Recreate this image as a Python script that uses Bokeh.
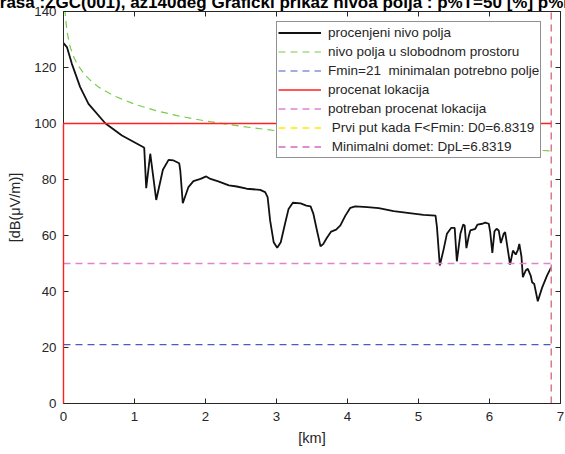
from bokeh.plotting import figure
from bokeh.models import Range1d, LinearAxis, SingleIntervalTicker, Legend
from bokeh.embed import file_html
from bokeh.resources import INLINE

# ---- data ----
d_km = [0.0, 0.048, 0.118, 0.235, 0.352, 0.588, 0.823, 1.127, 1.137, 1.165, 1.222, 1.306,
        1.40, 1.48, 1.55, 1.63, 1.645, 1.68, 1.76, 1.83, 1.93, 2.01, 2.07, 2.18, 2.33,
        2.44, 2.58, 2.77, 2.84, 2.875, 2.91, 2.96, 3.01, 3.06, 3.12, 3.17, 3.23, 3.34,
        3.42, 3.48, 3.52, 3.57, 3.62, 3.66, 3.71, 3.77, 3.84, 3.90, 3.97, 4.04, 4.11,
        4.28, 4.44, 4.65, 5.07, 5.24, 5.26, 5.30, 5.35, 5.40, 5.46, 5.51, 5.54, 5.59,
        5.63, 5.65, 5.675, 5.71, 5.73, 5.80, 5.83, 5.90, 5.94, 5.99, 6.01, 6.04, 6.07,
        6.10, 6.13, 6.16, 6.20, 6.22, 6.26, 6.29, 6.33, 6.37, 6.40, 6.42, 6.45, 6.47,
        6.51, 6.54, 6.58, 6.60, 6.63, 6.68, 6.74, 6.81, 6.87]
field_db = [128.7, 127.3, 121.3, 113.0, 107.0, 100.1, 95.7, 91.5, 91.3, 76.9, 89.2, 72.7,
            83.5, 87.0, 86.8, 85.8, 83.2, 71.5, 77.3, 79.4, 80.2, 81.1, 80.2, 79.3, 77.9,
            77.5, 76.7, 76.3, 75.5, 73.7, 65.4, 57.6, 55.6, 57.6, 64.2, 69.5, 71.7, 71.5,
            70.7, 70.4, 67.7, 61.8, 56.1, 57.0, 59.2, 61.4, 62.1, 63.6, 67.1, 69.9, 70.4,
            70.1, 69.8, 68.7, 67.4, 67.1, 63.0, 49.3, 54.6, 60.6, 62.7, 62.7, 50.8, 60.6,
            63.9, 63.6, 55.5, 60.0, 61.8, 62.4, 63.9, 64.2, 64.6, 64.2, 61.2, 53.8, 61.5,
            62.4, 61.8, 57.3, 60.6, 61.2, 54.6, 49.6, 54.6, 53.2, 54.9, 57.0, 52.5, 45.1,
            47.5, 48.1, 45.7, 43.3, 42.7, 36.5, 41.3, 45.7, 48.7]

fs_km = [0.02, 0.03, 0.05, 0.08, 0.1, 0.15, 0.2, 0.3, 0.4, 0.5, 0.7, 1.0, 1.3, 1.6,
         2.0, 2.5, 3.0, 3.5, 4.0, 5.0, 6.0, 6.87]
fs_db = [140.9, 137.4, 132.9, 128.8, 126.9, 123.4, 120.9, 117.4, 114.9, 112.9, 110.0,
         106.9, 104.6, 102.8, 100.9, 99.0, 97.4, 96.0, 94.9, 92.9, 91.3, 90.2]

fmin = 21
d_end = 6.87
loc_x = [0.0, 0.0, 6.87]
loc_y = [0.0, 100.0, 100.0]
req_loc = 50
d0 = 6.87
dpl = 6.87

x_ticks_interval = 1
y_ticks_interval = 20

title_text = "Trasa :ZGC(001), az140deg Graficki prikaz nivoa polja : p%T=50 [%] p%L=50 [%]"
labels = ["procenjeni nivo polja",
          "nivo polja u slobodnom prostoru",
          "Fmin=21  minimalan potrebno polje",
          "procenat lokacija",
          "potreban procenat lokacija",
          " Prvi put kada F<Fmin: D0=6.8319",
          " Minimalni domet: DpL=6.8319"]

FONT = "Liberation Sans"
AX = "#262626"
HIDDEN_TOP = 21   # part of the figure pushed above the window so the title is cut like the original

p = figure(width=565, height=454 + HIDDEN_TOP, output_backend="svg", toolbar_location=None,
           x_range=Range1d(0, 7), y_range=Range1d(0, 140),
           min_border_left=63, min_border_right=5, min_border_top=11 + HIDDEN_TOP,
           min_border_bottom=51,
           x_axis_label="[km]", y_axis_label="[dB(μV/m)]")
p.styles = {"margin-top": f"-{HIDDEN_TOP}px"}
p.outline_line_color = None
p.grid.visible = False
p.background_fill_color = "white"
p.border_fill_color = "white"

p.title.text = title_text
p.title.align = "center"
p.title.text_font = FONT
p.title.text_font_size = "17px"
p.title.text_font_style = "bold"
p.title.text_color = "#000000"
p.title.standoff = 0
p.title.offset = 0

for ax in (p.xaxis[0], p.yaxis[0]):
    ax.major_tick_in = 5
    ax.major_tick_out = 0
    ax.minor_tick_line_color = None
    ax.axis_line_color = AX
    ax.major_tick_line_color = AX
    ax.major_label_text_color = AX
    ax.major_label_text_font = FONT
    ax.major_label_text_font_size = "13.3px"
    ax.axis_label_text_font = FONT
    ax.axis_label_text_font_size = "14.5px"
    ax.axis_label_text_font_style = "normal"
    ax.axis_label_text_color = AX
p.xaxis[0].ticker = SingleIntervalTicker(interval=x_ticks_interval, num_minor_ticks=0)
p.yaxis[0].ticker = SingleIntervalTicker(interval=y_ticks_interval, num_minor_ticks=0)
p.xaxis[0].major_label_standoff = 8
p.xaxis[0].axis_label_standoff = 6
p.yaxis[0].major_label_standoff = 7
p.yaxis[0].axis_label_standoff = 8

for loc, interval in (("right", y_ticks_interval), ("above", x_ticks_interval)):
    a = LinearAxis(ticker=SingleIntervalTicker(interval=interval, num_minor_ticks=0),
                   major_tick_in=5, major_tick_out=0, minor_tick_line_color=None,
                   axis_line_color=AX, major_tick_line_color=AX,
                   major_label_text_font_size="0px", major_label_standoff=0,
                   major_label_text_color=None)
    p.add_layout(a, loc)

r1 = p.line(d_km, field_db, line_color="#111111", line_width=1.8)
r2 = p.line(fs_km, fs_db, line_color="#77cc4a", line_width=1.2, line_dash="7 5")
r3 = p.line([0, d_end], [fmin, fmin], line_color="#4a5cc4", line_width=1.2, line_dash="7 5")
r4 = p.line(loc_x, loc_y, line_color="#ff2020", line_width=1.4)
r5 = p.line([0, d_end], [req_loc, req_loc], line_color="#e084d2", line_width=1.3, line_dash="7 5")
r6 = p.line([d0, d0], [0, 140], line_color="#ffee00", line_width=1.3, line_dash="7 5")
r7 = p.line([dpl, dpl], [0, 140], line_color="#d468c2", line_width=1.3, line_dash="7 5")
r4.level = "overlay"

legend = Legend(items=[(lab, [r]) for lab, r in zip(labels, [r1, r2, r3, r4, r5, r6, r7])],
                location=(213, 245))
legend.label_text_font = FONT
legend.label_text_font_size = "13.5px"
legend.label_text_color = AX
legend.label_height = 19
legend.glyph_height = 19
legend.glyph_width = 43
legend.label_standoff = 7
legend.spacing = 0
legend.padding = 1
legend.margin = 0
legend.border_line_color = AX
legend.border_line_width = 1
legend.background_fill_color = "white"
legend.background_fill_alpha = 1.0
p.add_layout(legend, "center")

open("out.html", "w").write(file_html(p, INLINE))
